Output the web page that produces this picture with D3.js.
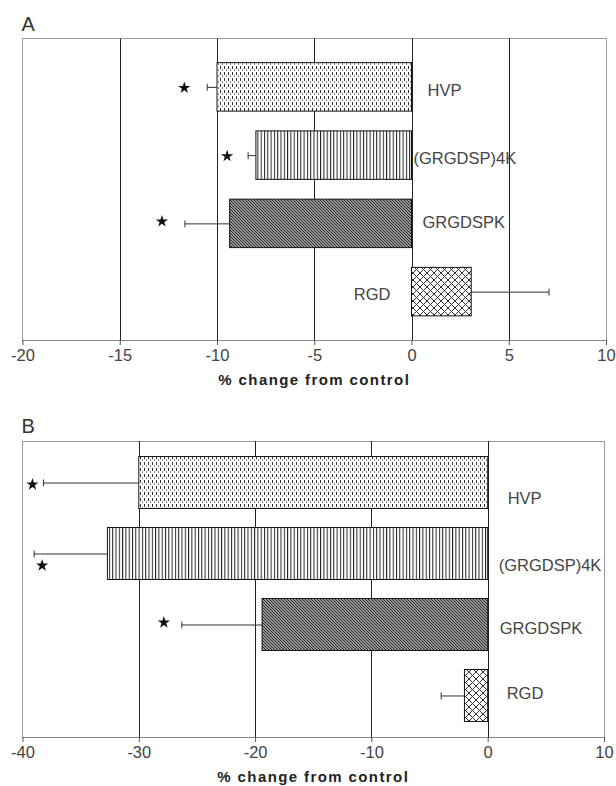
<!DOCTYPE html>
<html lang="en">
<head>
  <meta charset="UTF-8">
  <script src="https://d3js.org/d3.v7.min.js"></script>
  <title>% change from control</title>
  <style>
    body { margin: 0; background: #fff; }
    svg { display: block; font-family: "Liberation Sans", Arial, sans-serif; }
  </style>
</head>
<body>
  <div id="wrapper"></div>
  <script>
    // data
    const categories = ["HVP", "(GRGDSP)4K", "GRGDSPK", "RGD"]
    const patternIds = ["dots", "vlines", "diag", "cross"]

    const changeA = [-10.0, -8.0, -9.35, 3.07]
    const errorA = [0.5, 0.4, 2.3, 4.0]
    const starA = [true, true, true, false]
    const ticksA = [-20, -15, -10, -5, 0, 5, 10]

    const changeB = [-30.0, -32.7, -19.4, -2.0]
    const errorB = [8.2, 6.3, 6.9, 2.0]
    const starB = [true, true, true, false]
    const ticksB = [-40, -30, -20, -10, 0, 10]

    const axisTitle = "% change from control"

    const width = 616, height = 786

    const svg = d3.select("#wrapper")
      .append("svg")
      .attr("width", width)
      .attr("height", height)

    /* fill patterns */
    const defs = svg.append("defs")

    const dots = defs.append("pattern").attr("id", "dots")
      .attr("patternUnits", "userSpaceOnUse").attr("width", 4).attr("height", 6)
    dots.append("rect").attr("width", 4).attr("height", 6).attr("fill", "#fff")
    dots.append("rect").attr("x", 0).attr("y", 0).attr("width", 1).attr("height", 3).attr("fill", "#333")
    dots.append("rect").attr("x", 2).attr("y", 3).attr("width", 1).attr("height", 2).attr("fill", "#888")

    const vlines = defs.append("pattern").attr("id", "vlines")
      .attr("patternUnits", "userSpaceOnUse").attr("width", 3.3).attr("height", 10)
    vlines.append("rect").attr("width", 3.3).attr("height", 10).attr("fill", "#fff")
    vlines.append("rect").attr("x", 0).attr("width", 1).attr("height", 10).attr("fill", "#222")

    const diag = defs.append("pattern").attr("id", "diag")
      .attr("patternUnits", "userSpaceOnUse").attr("width", 3).attr("height", 3)
    diag.append("rect").attr("width", 3).attr("height", 3).attr("fill", "#999")
    diag.append("path").attr("d", "M-1,-1 L4,4 M-1,2 L1,4 M2,-1 L4,1")
      .attr("stroke", "#222").attr("stroke-width", 1)

    const cross = defs.append("pattern").attr("id", "cross")
      .attr("patternUnits", "userSpaceOnUse").attr("width", 7).attr("height", 7)
    cross.append("rect").attr("width", 7).attr("height", 7).attr("fill", "#fff")
    cross.append("path").attr("d", "M0,0 L7,7 M7,0 L0,7")
      .attr("stroke", "#333").attr("stroke-width", 1)

    /* one panel */
    function drawPanel(p) {
      const x = d3.scaleLinear().domain(p.domain).range([p.left, p.right])
      const y = d3.scaleBand().domain(categories)
        .range([p.top, p.bottom])
        .paddingInner(p.padIn)
        .paddingOuter(p.padOut)

      const g = svg.append("g")

      g.append("text")
        .attr("x", p.left - 1).attr("y", p.top - 8)
        .attr("font-size", 20).attr("fill", "#333")
        .text(p.letter)

      // plot frame
      g.append("rect")
        .attr("x", p.left).attr("y", p.top)
        .attr("width", p.right - p.left).attr("height", p.bottom - p.top)
        .attr("fill", "none").attr("stroke", "#999")
        .attr("shape-rendering", "crispEdges")

      // gridlines
      g.append("g").selectAll("line")
        .data(p.ticks.slice(1, -1))
        .join("line")
        .attr("x1", d => Math.round(x(d)) + 0.5).attr("x2", d => Math.round(x(d)) + 0.5)
        .attr("y1", p.top).attr("y2", p.bottom)
        .attr("stroke", "#222")

      // axis (plain hyphen for negatives, as in the figure)
      const axis = g.append("g")
        .attr("transform", `translate(0,${p.bottom})`)
        .call(d3.axisBottom(x).tickValues(p.ticks).tickFormat(d => String(d))
          .tickSize(5).tickPadding(4.5).tickSizeOuter(0))
      axis.select(".domain").attr("stroke", "#888")
      axis.selectAll(".tick line").attr("stroke", "#555")
      axis.selectAll(".tick text")
        .attr("font-family", "Liberation Sans, Arial, sans-serif")
        .attr("font-size", 16.5).attr("fill", "#444")

      g.append("text")
        .attr("x", (p.left + p.right) / 2).attr("y", p.bottom + 45)
        .attr("text-anchor", "middle")
        .attr("font-size", 15).attr("font-weight", "bold")
        .attr("letter-spacing", 1.4).attr("fill", "#222")
        .text(axisTitle)

      const rows = categories.map((c, i) => ({
        name: c, v: p.values[i], err: p.errors[i], star: p.stars[i], i
      }))

      // bars
      g.append("g").selectAll("rect")
        .data(rows)
        .join("rect")
        .attr("x", d => x(Math.min(0, d.v)))
        .attr("y", d => y(d.name))
        .attr("width", d => Math.abs(x(d.v) - x(0)))
        .attr("height", y.bandwidth())
        .attr("fill", d => `url(#${patternIds[d.i]})`)
        .attr("stroke", "#111").attr("stroke-width", 1)

      // error bars, drawn outward from the bar end
      const errEnd = d => d.v + Math.sign(d.v) * d.err
      const eb = g.append("g").attr("stroke", "#333")
      eb.selectAll("line.stem")
        .data(rows).join("line").attr("class", "stem")
        .attr("x1", d => x(d.v)).attr("x2", d => x(errEnd(d)))
        .attr("y1", d => y(d.name) + y.bandwidth() / 2 + 0.5)
        .attr("y2", d => y(d.name) + y.bandwidth() / 2 + 0.5)
      eb.selectAll("line.cap")
        .data(rows).join("line").attr("class", "cap")
        .attr("x1", d => x(errEnd(d))).attr("x2", d => x(errEnd(d)))
        .attr("y1", d => y(d.name) + y.bandwidth() / 2 - 3)
        .attr("y2", d => y(d.name) + y.bandwidth() / 2 + 4)

      // significance stars
      g.append("g").selectAll("path")
        .data(rows.filter(d => d.star))
        .join("path")
        .attr("d", d3.symbol(d3.symbolStar, 46))
        .attr("fill", "#111")
        .attr("transform", d => {
          const o = p.starOffset[d.i]
          return `translate(${x(errEnd(d)) + o[0]},${y(d.name) + y.bandwidth() / 2 + o[1]})`
        })

      // category labels
      g.append("g").selectAll("text")
        .data(rows)
        .join("text")
        .attr("x", d => x(0) + p.labelOffset[d.i][0])
        .attr("y", d => y(d.name) + y.bandwidth() / 2 + p.labelOffset[d.i][1])
        .attr("dy", "0.36em")
        .attr("text-anchor", d => d.v > 0 ? "end" : "start")
        .attr("font-size", 16.5).attr("fill", "#444")
        .text(d => d.name)
    }

    drawPanel({
      letter: "A", domain: [-20, 10], ticks: ticksA,
      values: changeA, errors: errorA, stars: starA,
      left: 22.5, right: 606, top: 38.5, bottom: 340,
      padIn: 0.29, padOut: 0.354,
      starOffset: [[-23, 1], [-21, 1], [-23, -2], [0, 0]],
      labelOffset: [[16, 3], [2, 3], [11, -1], [-21, 2]]
    })

    drawPanel({
      letter: "B", domain: [-40, 10], ticks: ticksB,
      values: changeB, errors: errorB, stars: starB,
      left: 22.5, right: 604, top: 441, bottom: 737,
      padIn: 0.268, padOut: 0.219,
      starOffset: [[-11, 2], [8, 12], [-18, -2], [0, 0]],
      labelOffset: [[20, 16], [11, 12], [12, 4], [19, -2]]
    })
  </script>
</body>
</html>
